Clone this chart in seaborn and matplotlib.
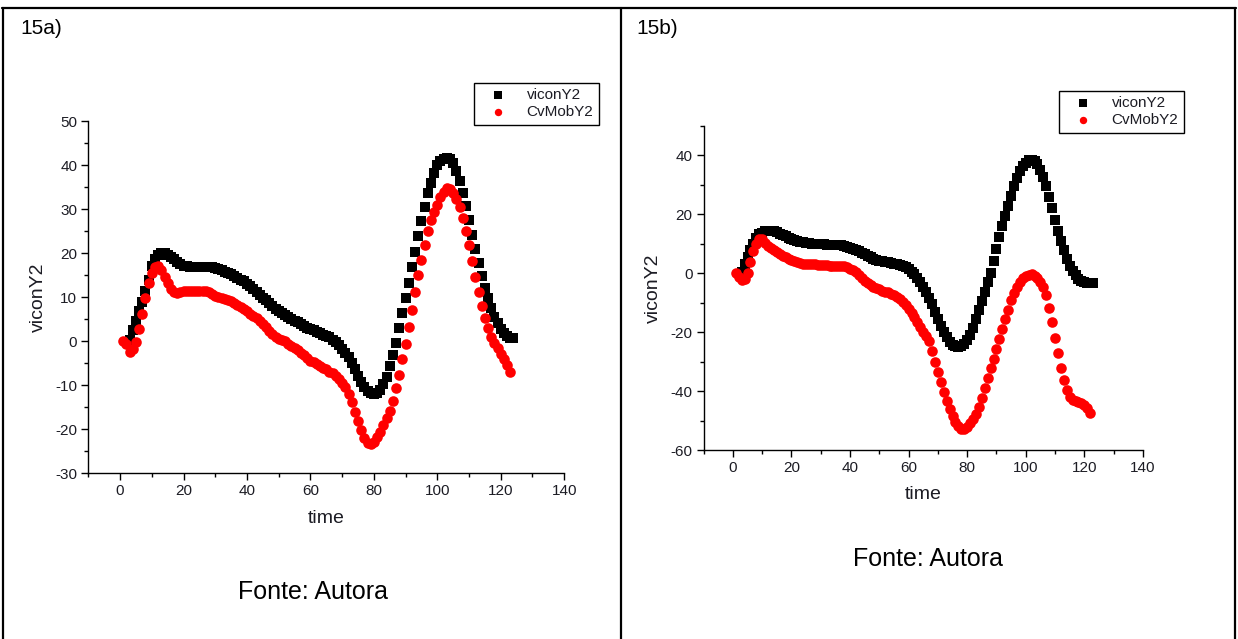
import matplotlib
matplotlib.use("Agg")
import matplotlib.pyplot as plt
from matplotlib.lines import Line2D
from matplotlib.ticker import MultipleLocator
import seaborn as sns
import pandas as pd

# ---- data: panel 15a ----
a_vicon_t = list(range(3, 125))
a_vicon_y = [
    0.3, 2.5, 4.7, 7.0, 9.0, 11.5, 14.0, 17.2, 18.8, 19.6,
    20.0, 20.0, 19.6, 19.2, 18.6, 18.0, 17.5, 17.2, 17.1, 17.0,
    17.0, 17.0, 17.0, 17.0, 17.0, 16.9, 16.8, 16.6, 16.4, 16.1,
    15.8, 15.5, 15.2, 14.8, 14.4, 14.0, 13.6, 13.1, 12.5, 11.9,
    11.2, 10.5, 9.9, 9.3, 8.6, 8.0, 7.4, 6.9, 6.4, 5.9,
    5.5, 5.1, 4.7, 4.3, 3.9, 3.5, 3.1, 2.8, 2.5, 2.2,
    1.8, 1.5, 1.2, 0.9, 0.4, -0.2, -0.9, -1.7, -2.6, -3.6,
    -4.9, -6.3, -7.8, -9.2, -10.4, -11.3, -11.8, -12.0, -11.8, -11.1,
    -9.8, -8.0, -5.6, -3.0, -0.4, 3.0, 6.4, 9.8, 13.2, 17.0,
    20.4, 23.9, 27.4, 30.6, 33.6, 36.0, 38.3, 40.0, 41.0, 41.5,
    41.7, 41.5, 40.5, 38.8, 36.5, 33.8, 30.8, 27.6, 24.2, 21.0,
    17.8, 14.9, 12.2, 9.8, 7.5, 5.6, 4.1, 2.8, 1.8, 1.1,
    0.8, 0.8,
]
a_cvmob_t = list(range(1, 124))
a_cvmob_y = [
    0.0, -0.6, -2.4, -1.8, -0.2, 2.7, 6.3, 9.8, 13.2, 15.5,
    16.8, 17.2, 16.2, 14.6, 13.2, 12.0, 11.2, 11.0, 11.2, 11.4,
    11.5, 11.5, 11.5, 11.5, 11.5, 11.5, 11.5, 11.3, 10.8, 10.2,
    10.0, 9.9, 9.7, 9.4, 9.1, 8.7, 8.3, 7.8, 7.3, 6.8,
    6.3, 5.8, 5.3, 4.7, 4.0, 3.2, 2.4, 1.6, 1.0, 0.6,
    0.3, 0.0, -0.5, -1.0, -1.5, -2.0, -2.6, -3.2, -3.9, -4.4,
    -4.8, -5.2, -5.6, -6.0, -6.4, -6.9, -7.3, -7.8, -8.6, -9.5,
    -10.4, -12.0, -13.8, -16.0, -18.2, -20.2, -22.0, -23.0, -23.3, -22.8,
    -21.8, -20.5, -19.0, -17.5, -15.8, -13.6, -10.7, -7.7, -4.0, -0.6,
    3.3, 7.1, 11.1, 15.0, 18.5, 21.8, 25.0, 27.6, 29.5, 31.0,
    32.8, 34.0, 34.9, 34.7, 33.6, 32.3, 30.6, 28.0, 25.0, 21.8,
    18.2, 14.6, 11.3, 8.0, 5.3, 3.0, 1.0, -0.4, -1.6, -2.8,
    -4.0, -5.3, -7.0,
]

# ---- data: panel 15b ----
b_vicon_t = list(range(3, 124))
b_vicon_y = [
    0.5, 3.0, 5.5, 7.8, 10.0, 12.0, 13.2, 13.8, 14.2, 14.5,
    14.5, 14.3, 14.0, 13.5, 13.0, 12.5, 12.0, 11.6, 11.2, 10.9,
    10.7, 10.5, 10.3, 10.2, 10.1, 10.0, 9.9, 9.8, 9.8, 9.7,
    9.7, 9.7, 9.7, 9.6, 9.5, 9.3, 9.0, 8.7, 8.3, 7.9,
    7.4, 6.9, 6.4, 5.9, 5.4, 5.0, 4.6, 4.3, 4.1, 3.9,
    3.7, 3.5, 3.3, 3.1, 2.8, 2.5, 2.0, 1.4, 0.6, -0.4,
    -1.6, -3.0, -4.6, -6.4, -8.4, -10.6, -13.0, -15.5, -17.8, -20.0,
    -21.8, -23.2, -24.2, -24.8, -25.0, -24.8, -24.0, -22.6, -20.8, -18.5,
    -15.6, -12.5, -9.3, -6.2, -3.1, 0.2, 4.2, 8.4, 12.3, 16.0,
    19.6, 23.0, 26.4, 29.6, 32.3, 34.6, 36.3, 37.6, 38.3, 38.6,
    38.2, 37.0, 35.2, 32.6, 29.6, 26.0, 22.1, 18.2, 14.4, 11.0,
    7.8, 5.0, 2.6, 0.7, -0.7, -1.8, -2.5, -3.0, -3.2, -3.3,
    -3.2,
]
b_cvmob_t = list(range(1, 123))
b_cvmob_y = [
    0.0, -1.2, -2.3, -1.8, 0.0, 3.8, 7.5, 10.0, 11.8, 11.5,
    10.3, 9.2, 8.6, 7.9, 7.2, 6.6, 6.0, 5.5, 5.0, 4.6,
    4.2, 3.8, 3.5, 3.3, 3.2, 3.2, 3.1, 3.0, 2.9, 2.8,
    2.8, 2.7, 2.6, 2.5, 2.5, 2.5, 2.4, 2.3, 2.0, 1.6,
    1.0, 0.3, -0.6, -1.6, -2.6, -3.4, -4.1, -4.6, -5.1, -5.5,
    -5.9, -6.2, -6.5, -6.9, -7.4, -8.0, -8.8, -9.7, -10.8, -12.0,
    -13.4, -15.0, -16.6, -18.2, -19.8, -21.2, -23.0, -26.5, -30.0, -33.5,
    -37.0, -40.3, -43.3, -46.0, -48.5, -50.6, -52.0, -52.9, -53.0, -52.3,
    -51.0, -49.6, -47.8, -45.3, -42.2, -39.1, -35.6, -32.2, -29.0, -25.8,
    -22.3, -18.8, -15.5, -12.3, -9.2, -6.7, -4.6, -2.9, -1.7, -0.9,
    -0.5, -0.4, -0.9, -1.7, -2.8, -4.5, -7.4, -11.9, -16.5, -22.0,
    -27.2, -32.0, -36.2, -39.6, -42.0, -43.0, -43.4, -43.6, -44.0, -44.7,
    -45.9, -47.3,
]

series_names = ["viconY2", "CvMobY2"]
panel_labels = ["15a)", "15b)"]
source_text = "Fonte: Autora"
x_label = "time"
y_label = "viconY2"

sns.set_theme(style="white")
plt.rcParams["font.family"] = ["Liberation Sans", "DejaVu Sans"]
plt.rcParams["axes.unicode_minus"] = False
TXT = "#1c1c24"

fig = plt.figure(figsize=(12.38, 6.39), dpi=100)
W, H = 1238, 639


def fx(px):
    return px / W


def fy(py):
    return 1 - py / H


# table grid around the two panels
for (x0, y0, x1, y1) in [(2, 8, 1236, 8), (3, 8, 3, 639), (621, 8, 621, 639),
                         (1235, 8, 1235, 639)]:
    fig.add_artist(Line2D([fx(x0), fx(x1)], [fy(y0), fy(y1)],
                          color="black", lw=1.6, transform=fig.transFigure))

panels = [
    dict(vt=a_vicon_t, vy=a_vicon_y, ct=a_cvmob_t, cy=a_cvmob_y,
         box=(88.4, 121.3, 564.2, 473.3), ylim=(-30, 50), ymaj=10, ymin=5,
         leg=(474, 83), label_xy=(20, 28), src_xy=(313, 592)),
    dict(vt=b_vicon_t, vy=b_vicon_y, ct=b_cvmob_t, cy=b_cvmob_y,
         box=(703.6, 126.0, 1142.9, 450.0), ylim=(-60, 50), ymaj=20, ymin=10,
         leg=(1059, 91), label_xy=(636, 28), src_xy=(928, 559)),
]

for i, p in enumerate(panels):
    x0, y0, x1, y1 = p["box"]
    ax = fig.add_axes([fx(x0), fy(y1), fx(x1) - fx(x0), fy(y0) - fy(y1)])
    dv = pd.DataFrame({"t": p["vt"], "v": p["vy"]})
    dc = pd.DataFrame({"t": p["ct"], "v": p["cy"]})
    sns.scatterplot(data=dv, x="t", y="v", ax=ax, marker="s", color="black",
                    s=52, linewidth=0, label=series_names[0], zorder=3)
    sns.scatterplot(data=dc, x="t", y="v", ax=ax, marker="o", color="#ff0000",
                    s=58, linewidth=0, label=series_names[1], zorder=4)
    ax.set_xlim(-10, 140)
    ax.set_ylim(*p["ylim"])
    ax.xaxis.set_major_locator(MultipleLocator(20))
    ax.xaxis.set_minor_locator(MultipleLocator(10))
    ax.yaxis.set_major_locator(MultipleLocator(p["ymaj"]))
    ax.yaxis.set_minor_locator(MultipleLocator(p["ymin"]))
    for s in ["top", "right"]:
        ax.spines[s].set_visible(False)
    for s in ["left", "bottom"]:
        ax.spines[s].set_color("black")
        ax.spines[s].set_linewidth(1.0)
    ax.tick_params(which="major", direction="out", length=5, width=1,
                   color="black", labelsize=11, labelcolor=TXT,
                   left=True, bottom=True, pad=3)
    ax.tick_params(which="minor", direction="out", length=3, width=1,
                   color="black", left=True, bottom=True)
    ax.set_xlabel(x_label, fontsize=14, color=TXT, labelpad=8)
    ax.set_ylabel(y_label, fontsize=14, color=TXT, labelpad=6)
    lx, ly = p["leg"]
    leg = ax.legend(loc="upper left", bbox_to_anchor=(fx(lx), fy(ly)),
                    bbox_transform=fig.transFigure, frameon=True,
                    fancybox=False, edgecolor="black", framealpha=1,
                    fontsize=11, borderpad=0.35, handletextpad=0.7,
                    handlelength=2.4, labelspacing=0.2, borderaxespad=0,
                    markerscale=0.7, labelcolor=TXT)
    leg.get_frame().set_linewidth(1.0)
    fig.text(fx(p["label_xy"][0]), fy(p["label_xy"][1]), panel_labels[i],
             fontsize=15, color="black", va="center", ha="left")
    fig.text(fx(p["src_xy"][0]), fy(p["src_xy"][1]), source_text,
             fontsize=18, color="black", va="center", ha="center")

fig.savefig("out.png", dpi=100)
